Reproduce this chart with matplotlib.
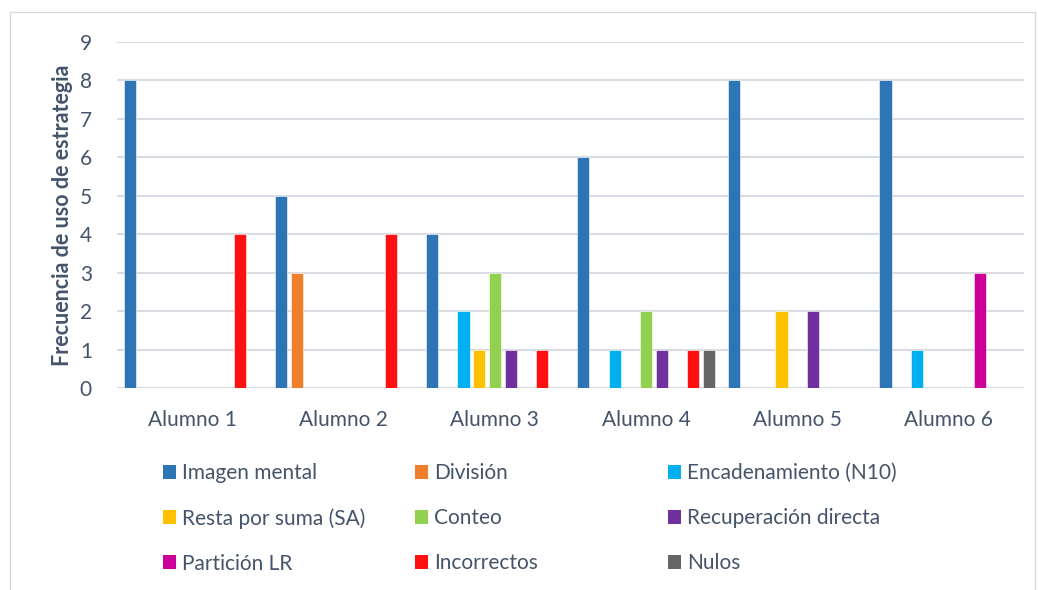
import numpy as np
import matplotlib.pyplot as plt
from matplotlib.patches import Rectangle, Patch

plt.rcParams['font.family'] = ['Lato', 'DejaVu Sans']

students = ["Alumno 1", "Alumno 2", "Alumno 3", "Alumno 4", "Alumno 5", "Alumno 6"]
series = ["Imagen mental", "División", "Encadenamiento (N10)", "Resta por suma (SA)",
          "Conteo", "Recuperación directa", "Partición LR", "Incorrectos", "Nulos"]

imagen_mental = [8, 5, 4, 6, 8, 8]
division = [0, 3, 0, 0, 0, 0]
encadenamiento = [0, 0, 2, 1, 0, 1]
resta_por_suma = [0, 0, 1, 0, 2, 0]
conteo = [0, 0, 3, 2, 0, 0]
recuperacion = [0, 0, 1, 1, 2, 0]
particion = [0, 0, 0, 0, 0, 3]
incorrectos = [4, 4, 1, 1, 0, 0]
nulos = [0, 0, 0, 1, 0, 0]

values = [imagen_mental, division, encadenamiento, resta_por_suma, conteo,
          recuperacion, particion, incorrectos, nulos]
colors = ["#2E75B6", "#EF7F2A", "#00B0F0", "#FFC000", "#92D050",
          "#7030A0", "#CC0099", "#FF1010", "#666666"]

text_color = "#44546A"
fs = 15

W, H, DPI = 1038, 590, 100
fig = plt.figure(figsize=(W / DPI, H / DPI), dpi=DPI)
ax = fig.add_axes([117 / W, 1 - 388 / H, (1024 - 117) / W, (388 - 42) / H])

slot = 0.104
bar_w = 0.08
x = np.arange(len(students))
for j, (vals, c) in enumerate(zip(values, colors)):
    ax.bar(x + (j - 4) * slot, vals, bar_w, color=c, edgecolor="white",
           linewidth=0.4, zorder=3)

ax.set_xlim(-0.5, len(students) - 0.5)
ax.set_ylim(0, 9)
ax.set_yticks(range(0, 10))
ax.set_xticks(x)
ax.set_xticklabels(students)
ax.tick_params(axis='both', length=0, labelsize=fs, labelcolor=text_color)
ax.tick_params(axis='x', pad=16)
ax.tick_params(axis='y', pad=18)
ax.grid(axis='y', color="#D9DDE3", linewidth=1.5, zorder=0)
for s in ax.spines.values():
    s.set_visible(False)
ax.set_ylabel("Frecuencia de uso de estrategia", fontsize=15.5, fontweight='bold',
              color=text_color, labelpad=5)

# legend: three columns of equal width
handles = [Patch(facecolor=c, edgecolor='none') for c in colors]
col_x = [163, 415, 668]
for col in range(3):
    idx = [col, col + 3, col + 6]
    fig.legend([handles[i] for i in idx], [series[i] for i in idx],
               loc='upper left', bbox_to_anchor=(col_x[col] / W, 1 - 463 / H),
               frameon=False, fontsize=fs, labelcolor=text_color,
               handlelength=0.6, handleheight=0.65, handletextpad=0.3,
               labelspacing=1.2, borderpad=0, borderaxespad=0)

fig.patches.append(Rectangle((10 / W, -0.05), (1035 - 10) / W, 1.05 - 12 / H,
                             transform=fig.transFigure, fill=False,
                             edgecolor="#D9D9D9", linewidth=1))

fig.savefig("out.png", dpi=DPI)
